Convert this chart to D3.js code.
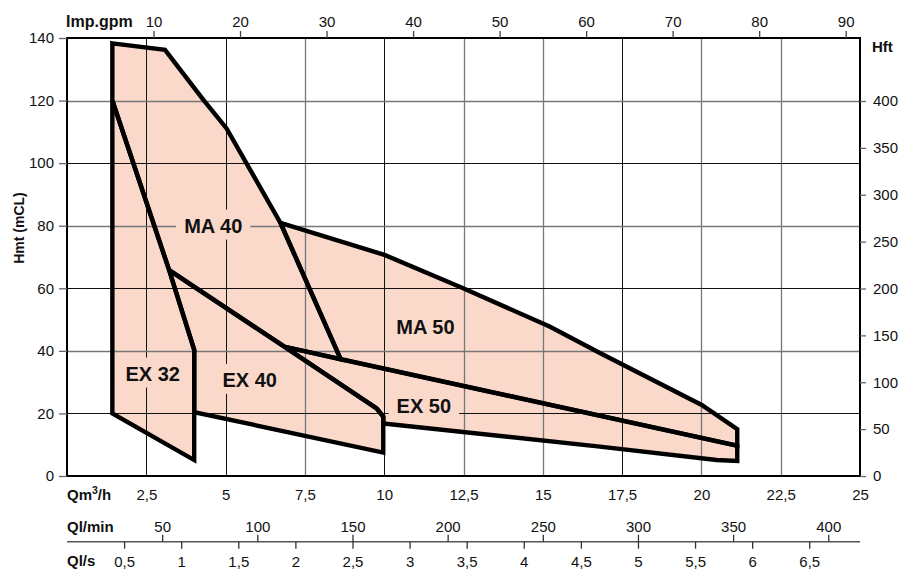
<!DOCTYPE html>
<html>
<head>
<meta charset="utf-8">
<script src="https://cdn.jsdelivr.net/npm/d3@7/dist/d3.min.js"></script>
<style>
  html, body { margin: 0; padding: 0; background: #fff; }
  svg { display: block; font-family: "Liberation Sans", Arial, Helvetica, sans-serif; }
</style>
</head>
<body>
<script>
// Operating fields of the pump ranges: flow Q (m³/h) against head Hmt (m).
const ex32 = [[1.43, 120.0], [3.22, 65.8], [4.01, 40.3], [4.01, 5.1], [1.43, 20.0]];
const ex40 = [[3.22, 65.8], [9.76, 21.6], [9.97, 19.0], [9.97, 7.5], [4.01, 20.4], [4.01, 40.3]];
const ex50 = [[6.87, 41.3], [21.13, 9.7], [21.13, 4.8], [20.48, 5.1], [16.80, 9.4], [9.97, 16.8], [9.97, 19.0], [9.76, 21.6]];
const ma40 = [[1.43, 138.3], [3.09, 136.2], [4.30, 120.2], [5.03, 111.1], [6.73, 80.9], [8.63, 37.3], [6.87, 41.3], [3.22, 65.8], [1.43, 120.0]];
const ma50 = [[6.73, 80.9], [10.03, 70.6], [12.49, 60.0], [15.23, 47.7], [16.80, 39.3], [20.01, 22.7], [21.13, 15.0], [21.13, 9.7], [8.63, 37.3]];

const fieldNames = ["EX 32", "EX 40", "EX 50", "MA 40", "MA 50"];
const fields = [ex32, ex40, ex50, ma40, ma50];

// Tick values of the primary and secondary scales
const qTicks = [2.5, 5, 7.5, 10, 12.5, 15, 17.5, 20, 22.5, 25];
const hTicks = [0, 20, 40, 60, 80, 100, 120, 140];
const gpmTicks = [10, 20, 30, 40, 50, 60, 70, 80, 90];
const ftTicks = [0, 50, 100, 150, 200, 250, 300, 350, 400];
const lminTicks = [50, 100, 150, 200, 250, 300, 350, 400];
const lsTicks = [0.5, 1, 1.5, 2, 2.5, 3, 3.5, 4, 4.5, 5, 5.5, 6, 6.5];

// Unit conversions from m³/h
const GPM_PER_M3H = 3.6662;
const LMIN_PER_M3H = 16.6667;
const M3H_PER_LS = 3.6;

const W = 902, H = 570;
const pLeft = 67, pRight = 860, pTop = 38, pBottom = 476;
const FILL = "#FAD9CB";
const TICK_FS = 15;
const comma = d => String(d).replace(".", ",");

const svg = d3.select("body").append("svg").attr("width", W).attr("height", H);
svg.append("rect").attr("width", W).attr("height", H).attr("fill", "#fff");

const x = d3.scaleLinear().domain([0, 25]).range([pLeft, pRight]);
const y = d3.scaleLinear().domain([0, 140]).range([pBottom, pTop]);
const xGpm = d3.scaleLinear().domain([0, 25 * GPM_PER_M3H]).range([pLeft, pRight]);
const xLmin = d3.scaleLinear().domain([0, 25 * LMIN_PER_M3H]).range([pLeft, pRight]);
const xLs = d3.scaleLinear().domain([0, 25 / M3H_PER_LS]).range([pLeft, pRight]);
const yFt = d3.scaleLinear().domain([0, 400]).range([pBottom, 101]);

const outline = d3.line().x(d => x(d[0])).y(d => y(d[1])).curve(d3.curveLinearClosed);

// Filled areas
svg.append("g").selectAll("path").data(fields).join("path")
  .attr("d", outline).attr("fill", FILL).attr("stroke", "none");

// Grid
const darkV = new Set([2.5, 5, 10, 17.5]);
const grid = svg.append("g");
grid.selectAll("line.v").data(qTicks.filter(q => q < 25)).join("line")
  .attr("class", "v")
  .attr("x1", d => Math.round(x(d)) + 0.5).attr("x2", d => Math.round(x(d)) + 0.5)
  .attr("y1", pTop).attr("y2", pBottom)
  .attr("stroke", d => darkV.has(d) ? "#111" : "#777")
  .attr("stroke-width", d => darkV.has(d) ? 1 : 1.3);
const darkH = new Set([20, 60, 100]);
grid.selectAll("line.h").data(hTicks.filter(h => h > 0 && h < 140)).join("line")
  .attr("class", "h")
  .attr("x1", pLeft).attr("x2", pRight)
  .attr("y1", d => Math.round(y(d)) + 0.5).attr("y2", d => Math.round(y(d)) + 0.5)
  .attr("stroke", d => darkH.has(d) ? "#111" : "#777")
  .attr("stroke-width", d => darkH.has(d) ? 1 : 1.3);

// Field labels with a knock-out behind them
const labelAt = {
  "MA 40": [4.61, 77.8], "EX 32": [2.70, 30.5], "EX 40": [5.76, 28.5],
  "MA 50": [11.30, 45.3], "EX 50": [11.25, 20.0]
};
const labels = svg.append("g");
fieldNames.forEach(name => {
  const [q, h] = labelAt[name];
  const g = labels.append("g");
  const t = g.append("text")
    .attr("x", x(q)).attr("y", y(h))
    .attr("text-anchor", "middle")
    .attr("font-size", 20).attr("font-weight", "bold").attr("fill", "#111")
    .text(name);
  const b = t.node().getBBox();
  g.insert("rect", "text")
    .attr("x", b.x - 8).attr("y", b.y - 5)
    .attr("width", b.width + 16).attr("height", b.height + 8)
    .attr("fill", FILL);
});

// Outlines
svg.append("g").selectAll("path").data(fields).join("path")
  .attr("d", outline).attr("fill", "none")
  .attr("stroke", "#000").attr("stroke-width", 4.4)
  .attr("stroke-linejoin", "miter").attr("stroke-miterlimit", 3);

// Frame
svg.append("rect")
  .attr("x", pLeft).attr("y", pTop).attr("width", pRight - pLeft).attr("height", pBottom - pTop)
  .attr("fill", "none").attr("stroke", "#000").attr("stroke-width", 2);

function styleAxis(g, tickColor) {
  g.select(".domain").remove();
  g.selectAll(".tick line").attr("stroke", tickColor).attr("stroke-width", 1.3);
  g.selectAll(".tick text").attr("fill", "#111").attr("font-size", TICK_FS)
    .attr("font-family", "\"Liberation Sans\", Arial, Helvetica, sans-serif");
}

// Left: Hmt
svg.append("g").attr("transform", `translate(${pLeft},0)`)
  .call(d3.axisLeft(y).tickValues(hTicks).tickSize(8).tickPadding(5))
  .call(g => styleAxis(g, "#666"));

// Right: Hft
svg.append("g").attr("transform", `translate(${pRight},0)`)
  .call(d3.axisRight(yFt).tickValues(ftTicks).tickSize(6).tickPadding(7))
  .call(g => styleAxis(g, "#666"));

// Top: Imp.gpm
svg.append("g").attr("transform", `translate(0,${pTop})`)
  .call(d3.axisTop(xGpm).tickValues(gpmTicks).tickSize(7).tickPadding(4))
  .call(g => styleAxis(g, "#444"));

// Bottom: Q m³/h
svg.append("g").attr("transform", `translate(0,${pBottom})`)
  .call(d3.axisBottom(x).tickValues(qTicks).tickSize(0).tickPadding(13).tickFormat(comma))
  .call(g => styleAxis(g, "none"));

// Secondary flow scales: l/min above, l/s below a shared rule
const ruleY = 541.7;
svg.append("line").attr("x1", pLeft).attr("x2", pRight).attr("y1", ruleY).attr("y2", ruleY)
  .attr("stroke", "#555").attr("stroke-width", 1.5);
svg.append("g").attr("transform", `translate(0,${ruleY})`)
  .call(d3.axisTop(xLmin).tickValues(lminTicks).tickSize(7).tickPadding(3))
  .call(g => styleAxis(g, "#333"));
svg.append("g").attr("transform", `translate(0,${ruleY})`)
  .call(d3.axisBottom(xLs).tickValues(lsTicks).tickSize(7).tickPadding(7.5).tickFormat(comma))
  .call(g => styleAxis(g, "#333"));

// Axis titles
const title = (tx, ty, txt, fs) => svg.append("text").attr("x", tx).attr("y", ty)
  .attr("font-size", fs || 15).attr("font-weight", "bold").attr("fill", "#111").text(txt);
title(66, 27, "Imp.gpm", 16);
title(872, 52, "Hft");
title(67, 532, "Ql/min");
title(67, 566, "Ql/s");
const qt = svg.append("text").attr("x", 67).attr("y", 500)
  .attr("font-size", 15).attr("font-weight", "bold").attr("fill", "#111");
qt.append("tspan").text("Qm");
qt.append("tspan").attr("font-size", 10.5).attr("dy", -6).text("3");
qt.append("tspan").attr("dy", 6).text("/h");
svg.append("text")
  .attr("transform", "translate(24,228) rotate(-90)")
  .attr("text-anchor", "middle")
  .attr("font-size", 14).attr("font-weight", "bold").attr("fill", "#111")
  .text("Hmt (mCL)");
</script>
</body>
</html>
